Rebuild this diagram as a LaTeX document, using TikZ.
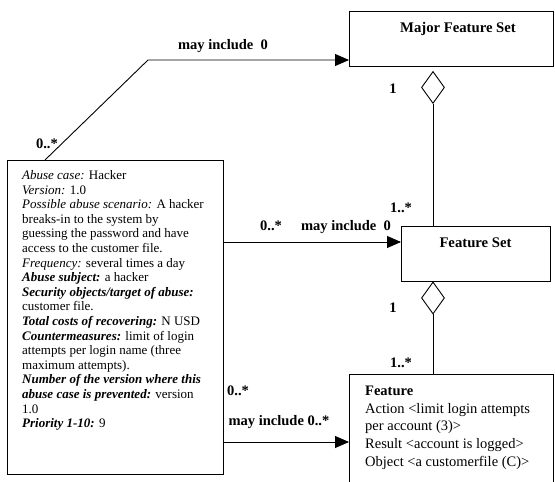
\documentclass[tikz,border=0pt]{standalone}
\usepackage{fontspec}
\setmainfont{Liberation Serif}
\usetikzlibrary{shapes.geometric,arrows.meta}
\tikzset{
  box/.style={draw, line width=1.1pt, rectangle, inner sep=0pt, anchor=north west},
  conn/.style={line width=0.9pt, -{Triangle[length=14pt,width=12pt]}},
  plain/.style={line width=0.9pt},
  agg/.style={draw, line width=0.9pt, shape=diamond, inner sep=0pt, minimum width=23pt, minimum height=32pt, fill=white},
  lbl/.style={font=\fontsize{14.5}{17}\selectfont\bfseries, inner sep=0pt, anchor=base},
  ttl/.style={font=\fontsize{14.7}{17}\selectfont\bfseries, inner sep=0pt, anchor=base},
  abtext/.style={font=\fontsize{13}{14.6}\selectfont, inner sep=0pt, anchor=north west, align=left},
  ftext/.style={font=\fontsize{14.5}{17.6}\selectfont, inner sep=0pt, anchor=north west, align=left}
}
\begin{document}
\begin{tikzpicture}[x=1pt, y=-1pt]
\useasboundingbox (0,0) rectangle (555,482);
\clip (0,0) rectangle (555,482);
% boxes
\node[box, minimum width=216pt, minimum height=314pt] (abuse) at (7,160) {};
\node[box, minimum width=204pt, minimum height=55pt] (major) at (349,11) {};
\node[box, minimum width=149pt, minimum height=55pt] (fs) at (401,226) {};
\node[box, minimum width=204pt, minimum height=140pt] (feat) at (349,374) {};
% titles and texts
\node[ttl] (majort) at (458,32) {Major Feature Set};
\node[ttl] (fst) at (475.5,247) {Feature Set};
\node[abtext] (abt) at (22,170.3) {%
\textit{Abuse case:} Hacker\\
\textit{Version:} 1.0\\
\textit{Possible abuse scenario:} A hacker\\
breaks-in to the system by\\
guessing the password and have\\
access to the customer file.\\
\textit{Frequency:} several times a day\\
\textbf{\textit{Abuse subject:}} a hacker\\
\textbf{\textit{Security objects/target of abuse:}}\\
customer file.\\
\textbf{\textit{Total costs of recovering:}} N USD\\
\textbf{\textit{Countermeasures:}} limit of login\\
attempts per login name (three\\
maximum attempts).\\
\textbf{\textit{Number of the version where this}}\\
\textbf{\textit{abuse case is prevented:}} version\\
1.0\\
\textbf{\textit{Priority 1-10:}} 9};
\node[ftext] (ft) at (365,386) {%
\textbf{Feature}\\
Action <limit login attempts\\
per account (3)>\\
Result <account is logged>\\
Object <a customerfile (C)>};
% aggregation diamonds
\node[agg, anchor=north] (d1) at (433,71) {};
\node[agg, anchor=north] (d2) at (433,281.5) {};
\draw[plain] (d1.south) -- (d1.south |- fs.north);
\draw[plain] (d2.south) -- (d2.south |- feat.north);
% connectors
\coordinate (c1) at (148,60);
\draw[conn] ([xshift=38pt]abuse.north west) -- (c1) -- (c1 -| major.west);
\coordinate (m1) at (223,242);
\draw[conn] (m1) -- (m1 -| fs.west);
\coordinate (b1) at (223,442);
\draw[conn] (b1) -- (b1 -| feat.west);
% labels
\node[lbl] (l1) at (223,49) {may include\ \ 0};
\node[lbl] (l2) at (47,148) {0..*};
\node[lbl] (l3) at (393,93) {1};
\node[lbl] (l4) at (401,212) {1..*};
\node[lbl] (l5) at (271,230) {0..*};
\node[lbl] (l6) at (346,230) {may include\ \ 0};
\node[lbl] (l7) at (393,312) {1};
\node[lbl] (l8) at (401,367) {1..*};
\node[lbl] (l9) at (238,395) {0..*};
\node[lbl] (l10) at (279,425) {may include 0..*};
\end{tikzpicture}
\end{document}
